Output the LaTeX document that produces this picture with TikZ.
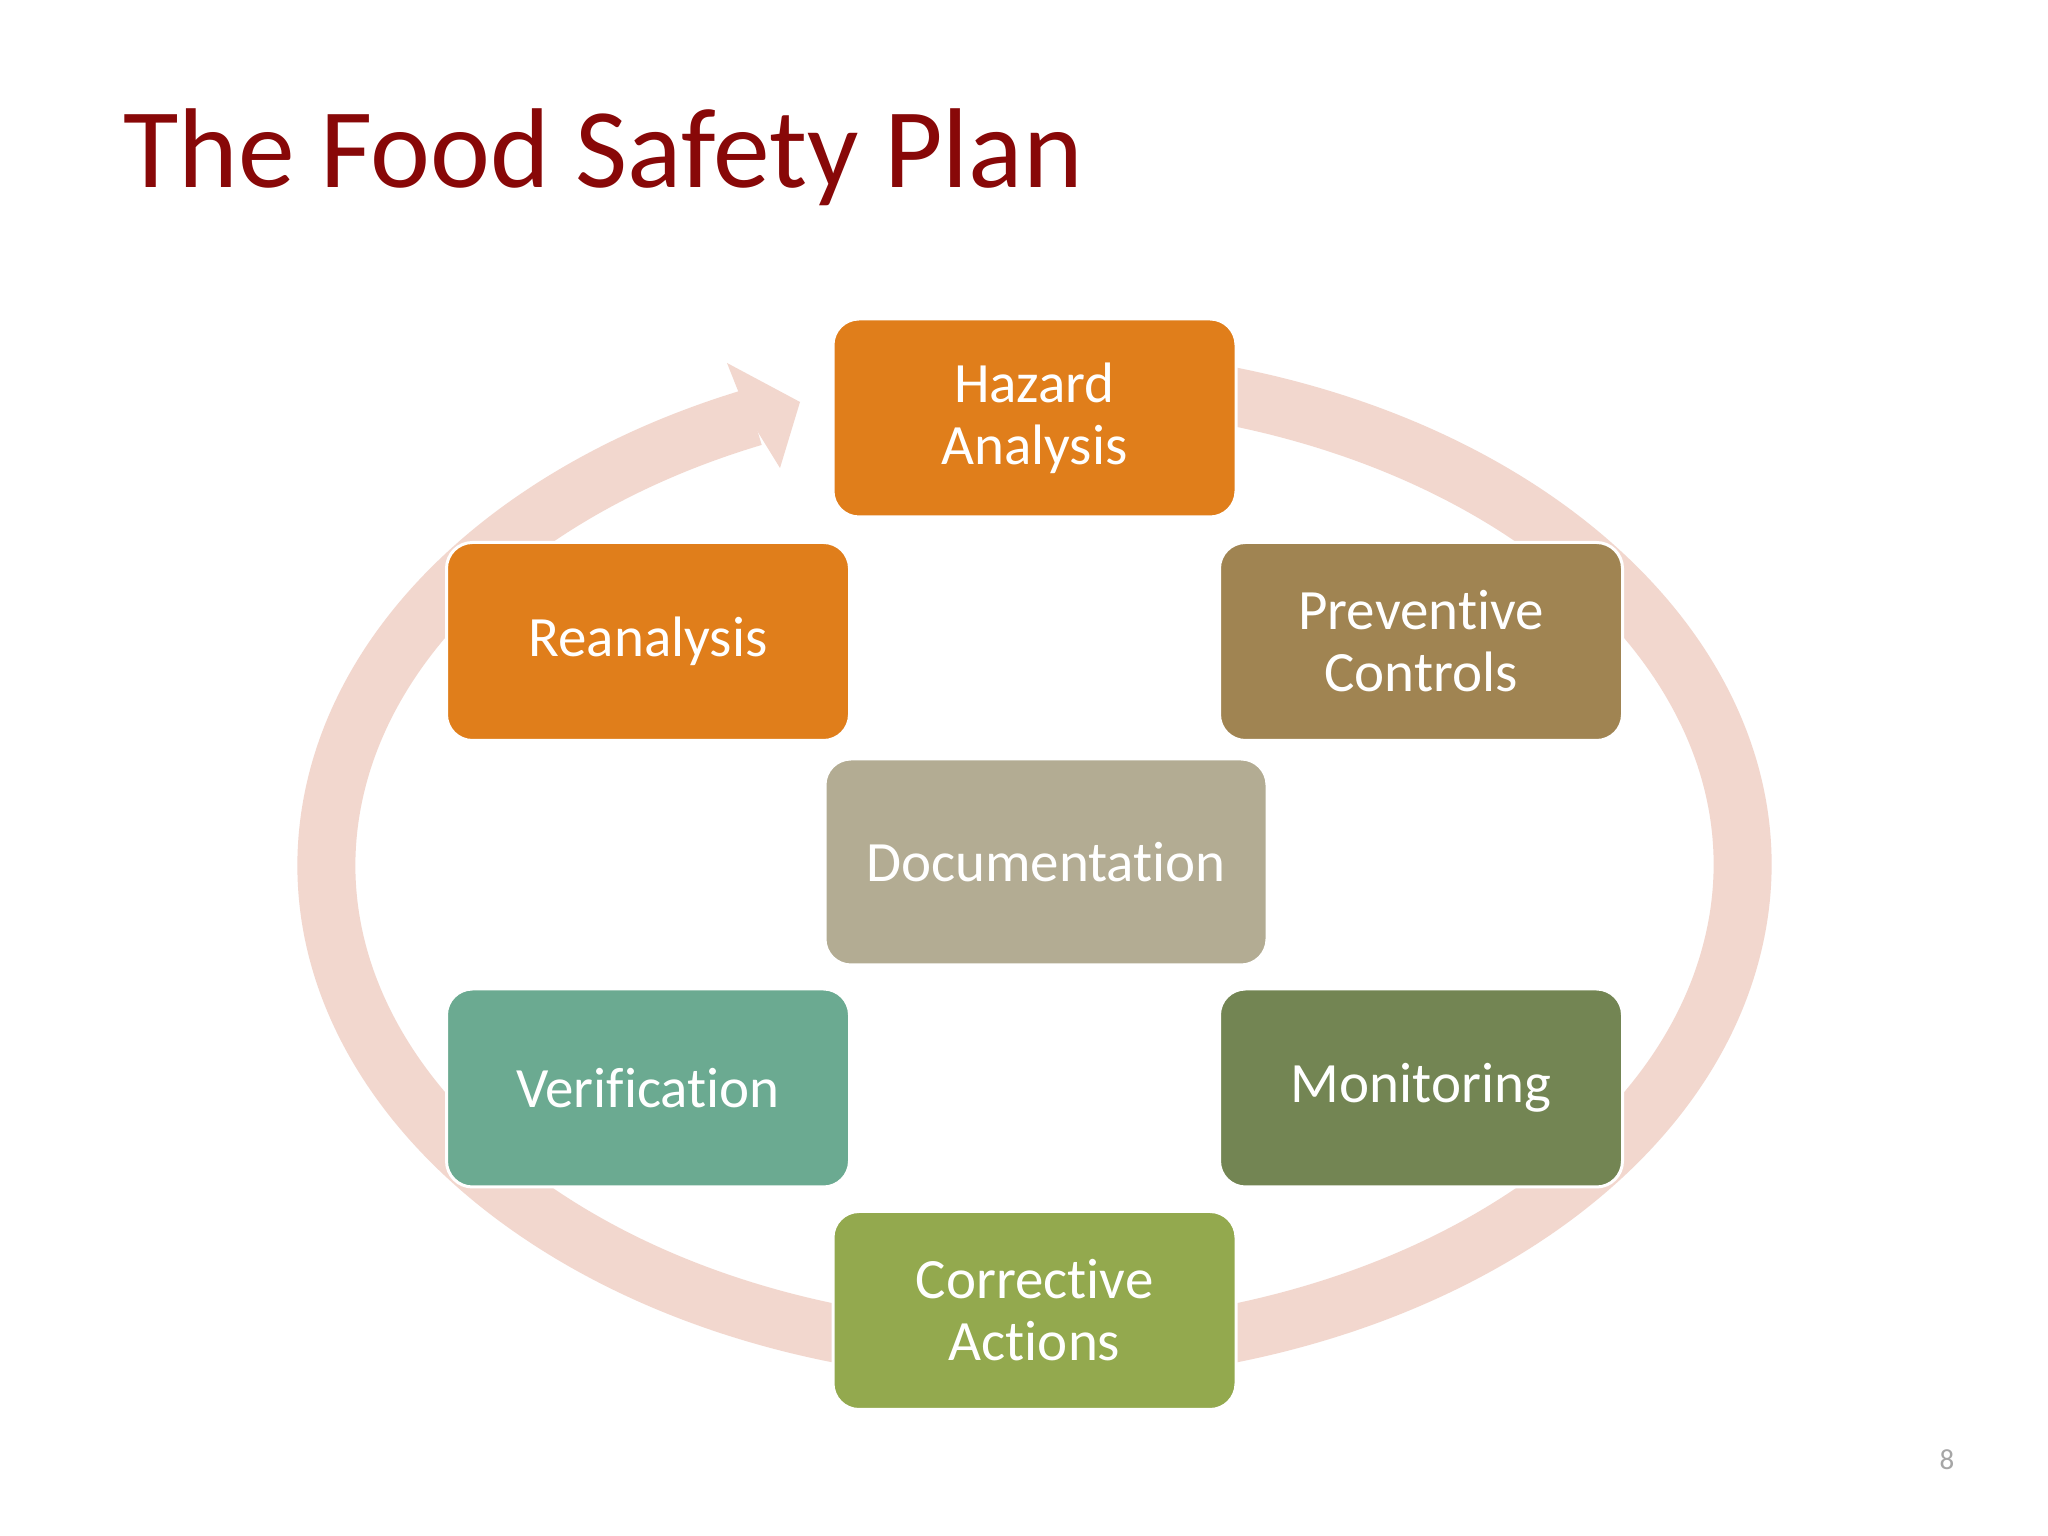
\documentclass[tikz,border=0pt]{standalone}
\usepackage{fontspec}
\usetikzlibrary{calc}
\setmainfont{Carlito}[RawFeature=-liga]
\definecolor{ringc}{HTML}{F2D7CE}
\definecolor{titlec}{HTML}{880808}
\definecolor{orangec}{HTML}{E07E1B}
\definecolor{prevc}{HTML}{A08452}
\definecolor{docc}{HTML}{B3AC93}
\definecolor{verc}{HTML}{6BAA91}
\definecolor{monc}{HTML}{738553}
\definecolor{corc}{HTML}{93A94E}
\definecolor{pagec}{HTML}{A6A6A6}
\tikzset{
  stepbox/.style={rectangle, rounded corners=26pt, draw=white, line width=3pt,
    minimum width=403pt, minimum height=198pt, inner sep=0pt, text=white,
    align=center, font=\fontsize{57}{62}\selectfont},
  ringline/.style={draw=ringc, line width=58pt},
  ringhead/.style={fill=ringc, draw=none}
}
\begin{document}
\begin{tikzpicture}[x=1pt,y=1pt]
\useasboundingbox (0,0) rectangle (2048,1536);
\fill[white] (0,0) rectangle (2048,1536);
% title
\node[anchor=base west, inner sep=0pt, text=titlec, font=\fontsize{113.5}{120}\selectfont] (title) at (123,1348) {The Food Safety Plan};
% ring
\coordinate (rc) at (1034.5,671);
\draw[ringline] ($(rc)+(80:708 and 488)$) arc[start angle=80, end angle=-246.6, x radius=708, y radius=488];
\fill[ringhead] (727,1173) -- (800,1134) -- (780,1068) -- (748,1120) -- cycle;
% boxes
\node[stepbox, fill=orangec] (haz) at (1034.5,1118) {Hazard\\Analysis};
\node[stepbox, fill=orangec] (rea) at (648,894.5) {Reanalysis};
\node[stepbox, fill=prevc] (pre) at (1421,894.5) {Preventive\\Controls};
\node[stepbox, fill=docc, minimum width=442pt, minimum height=206pt] (doc) at (1046,674) {Documentation};
\node[stepbox, fill=verc] (ver) at (648,448) {Verification};
\node[stepbox, fill=monc] (mon) at (1421,448) {Monitoring};
\node[stepbox, fill=corc] (cor) at (1034.5,225.5) {Corrective\\Actions};
% page number
\node[text=pagec, font=\fontsize{29}{32}\selectfont, inner sep=0pt] (pg) at (1947,76) {8};
\end{tikzpicture}
\end{document}
